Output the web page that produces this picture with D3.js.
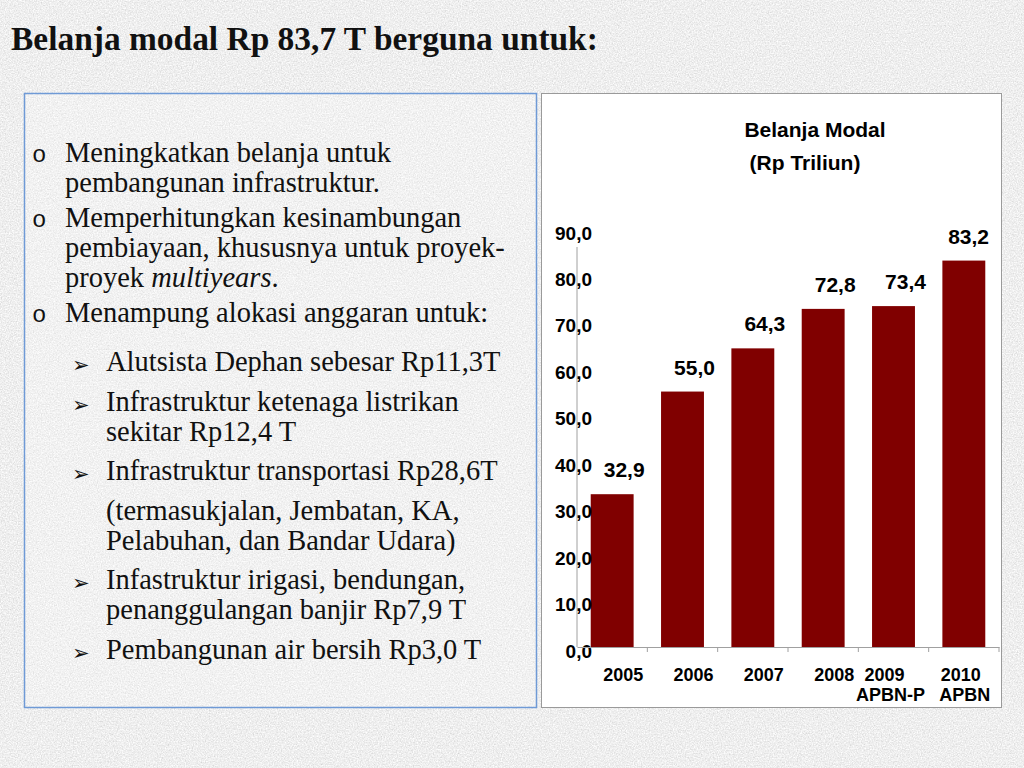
<!DOCTYPE html>
<html><head><meta charset="utf-8">
<script src="https://cdn.jsdelivr.net/npm/d3@7"></script>
<style>body{margin:0;background:#d8d8d8}svg{display:block}</style>
</head><body><svg id="c" width="1024" height="768"></svg>
<script>
// ---------------- data ----------------
const categories = ["2005", "2006", "2007", "2008", "2009\nAPBN-P", "2010\nAPBN"];
const values = [32.9, 55.0, 64.3, 72.8, 73.4, 83.2];
const yTicks = [0, 10, 20, 30, 40, 50, 60, 70, 80, 90];
const slideTitle = "Belanja modal Rp 83,7 T berguna untuk:";
const chartTitleLines = ["Belanja Modal", "(Rp Triliun)"];
const paragraphs = [
  {level: 0, bullet: "o", lines: ["Meningkatkan belanja untuk", "pembangunan infrastruktur."]},
  {level: 0, bullet: "o", lines: ["Memperhitungkan kesinambungan", "pembiayaan, khususnya untuk proyek-", "proyek *multiyears*."]},
  {level: 0, bullet: "o", lines: ["Menampung alokasi anggaran untuk:"]},
  {level: 1, bullet: "\u27A2", lines: ["Alutsista Dephan sebesar Rp11,3T"]},
  {level: 1, bullet: "\u27A2", lines: ["Infrastruktur ketenaga listrikan", "sekitar Rp12,4 T"]},
  {level: 1, bullet: "\u27A2", lines: ["Infrastruktur transportasi Rp28,6T"]},
  {level: 1, bullet: "", lines: ["(termasukjalan, Jembatan, KA,", "Pelabuhan, dan Bandar Udara)"]},
  {level: 1, bullet: "\u27A2", lines: ["Infastruktur irigasi, bendungan,", "penanggulangan banjir Rp7,9 T"]},
  {level: 1, bullet: "\u27A2", lines: ["Pembangunan air bersih Rp3,0 T"]}
];

// ---------------- setup ----------------
const svg = d3.select("#c");
const defs = svg.append("defs");
const f = defs.append("filter").attr("id", "grain")
  .attr("filterUnits", "userSpaceOnUse").attr("x", 0).attr("y", 0).attr("width", 1024).attr("height", 768);
f.append("feTurbulence").attr("type", "fractalNoise").attr("baseFrequency", 0.75).attr("numOctaves", 3).attr("seed", 4);
f.append("feColorMatrix").attr("type", "saturate").attr("values", 0);
const ct = f.append("feComponentTransfer");
["feFuncR", "feFuncG", "feFuncB"].forEach(n => ct.append(n).attr("type", "linear").attr("slope", 0.6).attr("intercept", 0.56));
ct.append("feFuncA").attr("type", "linear").attr("slope", 0).attr("intercept", 1);

svg.append("rect").attr("width", 1024).attr("height", 768).attr("fill", "#d8d8d8").attr("filter", "url(#grain)");

const serif = "'Liberation Serif', 'Times New Roman', serif";

// slide title
const titleSize = 28;
const tt = svg.append("text").attr("x", 11).attr("y", 50)
  .attr("font-family", serif).attr("font-weight", "bold")
  .attr("font-size", titleSize).attr("fill", "#111").text(slideTitle);
const tw = tt.node().getComputedTextLength();
tt.attr("font-size", titleSize * 587 / tw);

// ---------------- left text box ----------------
svg.append("rect").attr("x", 24.5).attr("y", 93.5).attr("width", 512).attr("height", 614)
  .attr("fill", "rgba(255,255,255,0.2)").attr("stroke", "#6f9ad6").attr("stroke-width", 1.5);

let bodySize = 24;
const probe = svg.append("text").attr("font-family", serif).attr("font-size", bodySize).text(paragraphs[0].lines[0]);
bodySize = bodySize * 326 / probe.node().getComputedTextLength();
probe.remove();

const textX = [65, 106];
const bulletX = [32, 72];
const lineH = 30;
let yy = 162, prevLevel = null;
const tg = svg.append("g");
paragraphs.forEach((p, pi) => {
  if (pi > 0) {
    yy += lineH + (p.level === 0 ? 5 : (prevLevel === 0 ? 19 : 9.5));
  }
  if (p.bullet === "o") {
    tg.append("text").attr("x", bulletX[0]).attr("y", yy).attr("font-family", "'Liberation Mono', monospace")
      .attr("font-size", 24).attr("fill", "#111").text("o");
  } else if (p.bullet) {
    tg.append("text").attr("x", bulletX[1]).attr("y", yy + 1).attr("font-family", "'DejaVu Sans', sans-serif")
      .attr("font-size", 21).attr("fill", "#111").text(p.bullet);
  }
  p.lines.forEach((ln, li) => {
    const t = tg.append("text").attr("x", textX[p.level]).attr("y", yy + li * lineH)
      .attr("font-family", serif).attr("font-size", bodySize).attr("fill", "#111");
    ln.split("*").forEach((seg, si) => {
      if (!seg) return;
      t.append("tspan").attr("font-style", si % 2 ? "italic" : "normal").text(seg);
    });
  });
  yy += (p.lines.length - 1) * lineH;
  prevLevel = p.level;
});

// ---------------- chart panel ----------------
svg.append("rect").attr("x", 541.5).attr("y", 93.5).attr("width", 460).attr("height", 614)
  .attr("fill", "#fff").attr("stroke", "#9a9a9a").attr("stroke-width", 1);

const x = d3.scaleBand().domain(categories).range([577, 999]).paddingInner(0.39).paddingOuter(0.195);
const y = d3.scaleLinear().domain([0, 90]).range([647, 229]);
const loc = d3.formatLocale({decimal: ",", thousands: ".", grouping: [3], currency: ["Rp", ""]});
const fmt = loc.format(".1f");
const chartFont = "'Liberation Sans', Arial, Helvetica, sans-serif";

// chart title
const ctg = svg.append("g").attr("font-family", chartFont).attr("font-weight", "bold").attr("fill", "#000");
ctg.append("text").attr("x", 815).attr("y", 137).attr("text-anchor", "middle").attr("font-size", 21).text(chartTitleLines[0]);
ctg.append("text").attr("x", 805).attr("y", 170).attr("text-anchor", "middle").attr("font-size", 21).text(chartTitleLines[1]);

// bars
svg.append("g").selectAll("rect").data(values).join("rect")
  .attr("x", (d, i) => x(categories[i]))
  .attr("y", d => y(d))
  .attr("width", x.bandwidth())
  .attr("height", d => y(0) - y(d))
  .attr("fill", "#800000");

// y axis
const yAxis = svg.append("g").attr("transform", "translate(577,0)")
  .call(d3.axisLeft(y).tickValues(yTicks).tickFormat(fmt).tickSize(0));
yAxis.select(".domain").attr("stroke", "#a0a0a0").attr("d", `M0,${y(0)}V${y(90) + 18}`);
yAxis.selectAll("text").attr("x", 15).attr("dy", null).attr("y", 10)
  .attr("font-family", chartFont).attr("font-weight", "bold").attr("font-size", 19).attr("fill", "#000");

// x axis
const xAxis = svg.append("g").attr("transform", `translate(0,${y(0)})`)
  .call(d3.axisBottom(x).tickSize(0).tickFormat(""));
xAxis.select(".domain").attr("stroke", "#a0a0a0");
const boundaries = d3.range(1, categories.length + 1).map(i => x.range()[0] + i * x.step());
xAxis.selectAll(".bnd").data(boundaries).join("line").attr("class", "bnd")
  .attr("x1", d => d).attr("x2", d => d).attr("y1", 0).attr("y2", 5).attr("stroke", "#a0a0a0");
const xl = svg.append("g").attr("font-family", chartFont).attr("font-weight", "bold").attr("font-size", 18).attr("fill", "#000");
categories.forEach((c, ci) => {
  const parts = c.split("\n");
  const last = ci === categories.length - 1;
  const cx = x(c) + x.bandwidth() / 2 + (parts.length > 1 ? (last ? 1 : -3) : 11);
  const t = xl.append("text").attr("text-anchor", "middle").attr("y", 681);
  parts.forEach((p, i) => t.append("tspan").attr("x", cx + (i === 0 && parts.length > 1 ? (last ? -4 : -6) : 0)).attr("dy", i ? 19.5 : 0).text(p));
});

// value labels
const vl = svg.append("g").attr("font-family", chartFont).attr("font-weight", "bold").attr("font-size", 21).attr("fill", "#000");
values.forEach((v, i) => {
  const t = vl.append("text").attr("text-anchor", "middle").attr("y", y(v) - 17).text(fmt(v));
  const w = t.node().getComputedTextLength();
  const cx = Math.min(x(categories[i]) + x.bandwidth() / 2 + 12, x.range()[1] - 10 - w / 2);
  t.attr("x", cx);
});
</script></body></html>
